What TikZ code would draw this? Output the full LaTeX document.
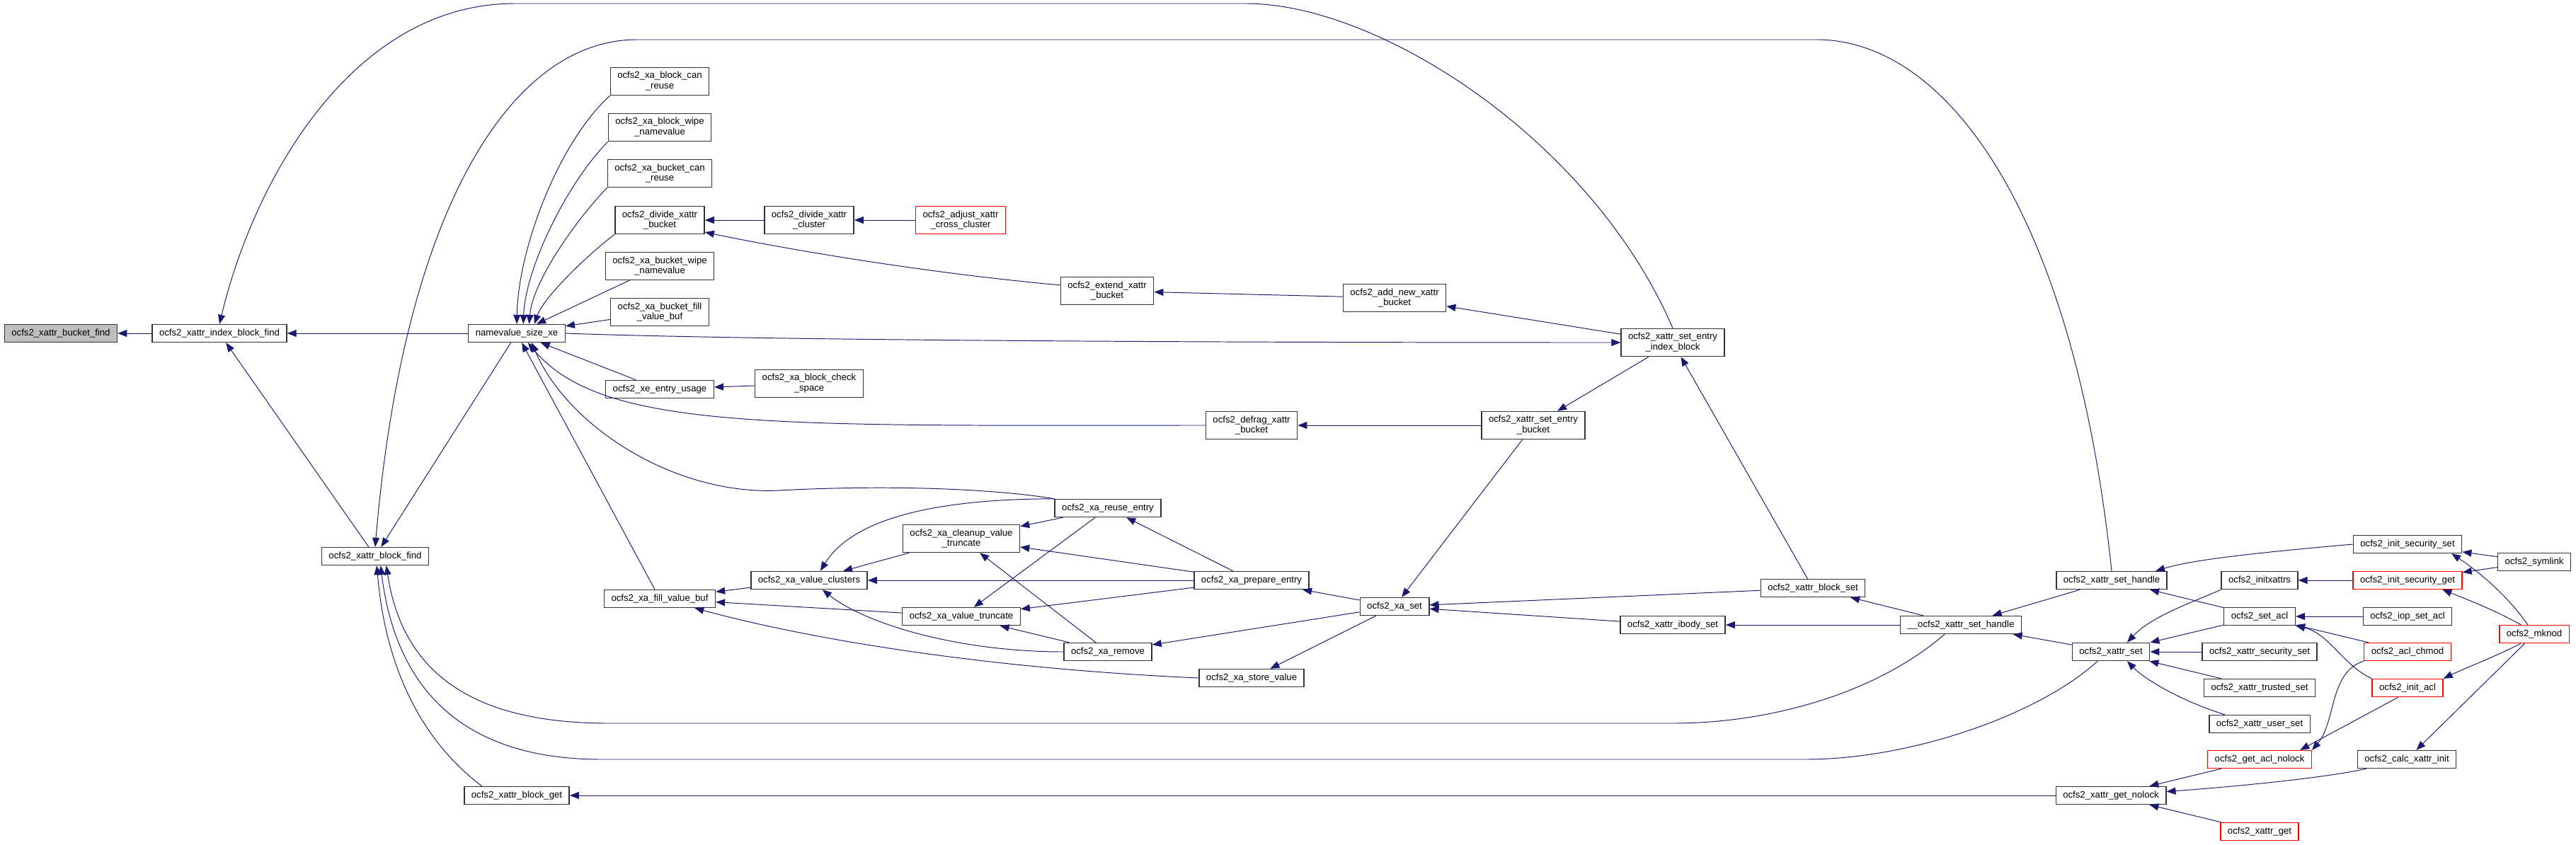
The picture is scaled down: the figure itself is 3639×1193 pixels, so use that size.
\documentclass[tikz,border=0pt]{standalone}
\usepackage{fontspec}
\setmainfont{Liberation Sans}
\usetikzlibrary{arrows.meta}
\definecolor{edgeblue}{HTML}{191970}

\begin{document}
\begin{tikzpicture}[
    x=0.02cm, y=-0.02cm,
    fn/.style={rectangle, draw=black!80, fill=white, line width=0.8pt, font=\fontsize{7.5}{8.5}\selectfont, align=center, inner xsep=0.2cm, inner ysep=0.12cm, minimum height=0.5cm},
    rootfn/.style={fn, fill=black!25},
    trunc/.style={fn, draw=red},
    call/.style={-{Triangle[length=0.26cm, width=0.2cm]}, draw=edgeblue, line width=0.55pt}
  ]
    \useasboundingbox (0,0) rectangle (3639,1193);
    \fill[white] (0,0) rectangle (3639,1193);

    % Target and nearest callers
    \node[rootfn] (bucketfind) at (86,471) {ocfs2\_xattr\_bucket\_find};
    \node[fn] (indexfind) at (310,471) {ocfs2\_xattr\_index\_block\_find};
    \node[fn] (nvsize) at (730,471) {namevalue\_size\_xe};
    \node[fn] (blockfind) at (530,786) {ocfs2\_xattr\_block\_find};
    \node[fn] (blockget) at (730,1124) {ocfs2\_xattr\_block\_get};

    % Callers of namevalue_size_xe
    \node[fn] (blockcanreuse) at (932,115) {ocfs2\_xa\_block\_can\\\_reuse};
    \node[fn] (blockwipe) at (932,180) {ocfs2\_xa\_block\_wipe\\\_namevalue};
    \node[fn] (bucketcanreuse) at (932,245) {ocfs2\_xa\_bucket\_can\\\_reuse};
    \node[fn] (dividebucket) at (932,311) {ocfs2\_divide\_xattr\\\_bucket};
    \node[fn] (bucketwipe) at (932,376) {ocfs2\_xa\_bucket\_wipe\\\_namevalue};
    \node[fn] (bucketfill) at (932,441) {ocfs2\_xa\_bucket\_fill\\\_value\_buf};
    \node[fn] (entryusage) at (932,550) {ocfs2\_xe\_entry\_usage};
    \node[fn] (fillbuf) at (932,846) {ocfs2\_xa\_fill\_value\_buf};

    % Bucket layer
    \node[fn] (dividecluster) at (1143,311) {ocfs2\_divide\_xattr\\\_cluster};
    \node[trunc] (adjustcross) at (1357,311) {ocfs2\_adjust\_xattr\\\_cross\_cluster};
    \node[fn] (extendbucket) at (1564,411) {ocfs2\_extend\_xattr\\\_bucket};
    \node[fn] (addbucket) at (1970,421) {ocfs2\_add\_new\_xattr\\\_bucket};
    \node[fn] (setindexblock) at (2363,484) {ocfs2\_xattr\_set\_entry\\\_index\_block};
    \node[fn] (checkspace) at (1143,542) {ocfs2\_xa\_block\_check\\\_space};
    \node[fn] (defrag) at (1768,601) {ocfs2\_defrag\_xattr\\\_bucket};
    \node[fn] (setbucket) at (2166,601) {ocfs2\_xattr\_set\_entry\\\_bucket};

    % Value helpers
    \node[fn] (reuseentry) at (1565,718) {ocfs2\_xa\_reuse\_entry};
    \node[fn] (cleanup) at (1358,761) {ocfs2\_xa\_cleanup\_value\\\_truncate};
    \node[fn] (valueclusters) at (1143,820) {ocfs2\_xa\_value\_clusters};
    \node[fn] (prepareentry) at (1768,820) {ocfs2\_xa\_prepare\_entry};
    \node[fn] (valuetruncate) at (1358,871) {ocfs2\_xa\_value\_truncate};
    \node[fn] (xaremove) at (1565,921) {ocfs2\_xa\_remove};
    \node[fn] (storevalue) at (1768,958) {ocfs2\_xa\_store\_value};

    % Set path
    \node[fn] (xaset) at (1970,857) {ocfs2\_xa\_set};
    \node[fn] (blockset) at (2561,831) {ocfs2\_xattr\_block\_set};
    \node[fn] (ibodyset) at (2363,883) {ocfs2\_xattr\_ibody\_set};
    \node[fn] (setinner) at (2770,883) {\_\_ocfs2\_xattr\_set\_handle};
    \node[fn] (sethandle) at (2983,820) {ocfs2\_xattr\_set\_handle};
    \node[fn] (xattrset) at (2982,921) {ocfs2\_xattr\_set};
    \node[fn] (getnolock) at (2982,1124) {ocfs2\_xattr\_get\_nolock};

    % Outer callers
    \node[fn] (initxattrs) at (3192,820) {ocfs2\_initxattrs};
    \node[fn] (setacl) at (3192,871) {ocfs2\_set\_acl};
    \node[fn] (secset) at (3192,921) {ocfs2\_xattr\_security\_set};
    \node[fn] (trustset) at (3192,972) {ocfs2\_xattr\_trusted\_set};
    \node[fn] (userset) at (3192,1023) {ocfs2\_xattr\_user\_set};
    \node[trunc] (getaclnolock) at (3192,1073) {ocfs2\_get\_acl\_nolock};
    \node[trunc] (xattrget) at (3192,1175) {ocfs2\_xattr\_get};
    \node[fn] (initsecset) at (3401,769) {ocfs2\_init\_security\_set};
    \node[trunc] (initsecget) at (3401,820) {ocfs2\_init\_security\_get};
    \node[fn] (iopsetacl) at (3401,871) {ocfs2\_iop\_set\_acl};
    \node[trunc] (aclchmod) at (3401,921) {ocfs2\_acl\_chmod};
    \node[trunc] (initacl) at (3401,972) {ocfs2\_init\_acl};
    \node[fn] (calcinit) at (3400,1073) {ocfs2\_calc\_xattr\_init};
    \node[fn] (symlink) at (3580,794) {ocfs2\_symlink};
    \node[trunc] (mknod) at (3580,896) {ocfs2\_mknod};

    % Connections
    \draw[call] (indexfind) -- (bucketfind);
    \draw[call] (nvsize) -- (indexfind);
    \draw[call] (blockfind) -- (indexfind);
    \draw[call] (setindexblock.north) .. controls (2250,200) and (1950,5) .. (1760,5) -- (727,5) .. controls (500,5) and (360,250) .. (indexfind.north);
    \draw[call] (sethandle.north) .. controls (2930,300) and (2750,56) .. (2566,56) -- (900,56) .. controls (720,56) and (570,300) .. (blockfind.north);

    \draw[call] (blockcanreuse.south west) .. controls (790,200) and (732,350) .. (nvsize.north);
    \draw[call] (blockwipe.south west) .. controls (800,260) and (742,380) .. (nvsize.55);
    \draw[call] (bucketcanreuse.south west) .. controls (810,315) and (752,400) .. (nvsize.37);
    \draw[call] (dividebucket.south west) .. controls (830,360) and (768,420) .. (nvsize.28);
    \draw[call] (bucketwipe) -- (nvsize);
    \draw[call] (bucketfill) -- (nvsize);
    \draw[call] (entryusage) -- (nvsize);
    \draw[call] (fillbuf) -- (nvsize);
    \draw[call] (defrag.west) .. controls (1100,601) and (850,610) .. (nvsize.-40);
    \draw[call] (reuseentry.north west) .. controls (1400,690) and (1250,685) .. (1100,693) .. controls (950,700) and (800,600) .. (nvsize.-32);
    \draw[call] (nvsize) -- (blockfind);
    \draw[call] (nvsize.east) .. controls (1100,482) and (1800,484) .. (setindexblock.west);

    \draw[call] (dividecluster) -- (dividebucket);
    \draw[call] (adjustcross) -- (dividecluster);
    \draw[call] (extendbucket.173) .. controls (1300,385) and (1100,350) .. (dividebucket.-15);
    \draw[call] (addbucket) -- (extendbucket);
    \draw[call] (setindexblock) -- (addbucket);
    \draw[call] (checkspace) -- (entryusage);

    \draw[call] (setindexblock) -- (setbucket);
    \draw[call] (blockset) -- (setindexblock);
    \draw[call] (setbucket) -- (defrag);
    \draw[call] (setbucket) -- (xaset);

    \draw[call] (xaset) -- (prepareentry);
    \draw[call] (xaset) -- (xaremove);
    \draw[call] (xaset) -- (storevalue);
    \draw[call] (blockset) -- (xaset);
    \draw[call] (ibodyset) -- (xaset);
    \draw[call] (setinner) -- (ibodyset);
    \draw[call] (setinner) -- (blockset);

    \draw[call] (valueclusters) -- (fillbuf);
    \draw[call] (valuetruncate) -- (fillbuf);
    \draw[call] (storevalue.west) .. controls (1400,945) and (1150,905) .. (fillbuf.-15);
    \draw[call] (cleanup) -- (valueclusters);
    \draw[call] (reuseentry.north west) .. controls (1300,705) and (1200,740) .. (valueclusters.40);
    \draw[call] (prepareentry) -- (valueclusters);
    \draw[call] (xaremove.west) .. controls (1350,921) and (1220,880) .. (valueclusters.-35);
    \draw[call] (reuseentry) -- (cleanup);
    \draw[call] (prepareentry) -- (cleanup);
    \draw[call] (prepareentry) -- (reuseentry);
    \draw[call] (reuseentry) -- (valuetruncate);
    \draw[call] (xaremove) -- (cleanup);
    \draw[call] (prepareentry) -- (valuetruncate);
    \draw[call] (xaremove) -- (valuetruncate);

    \draw[call] (setinner.-150) .. controls (2650,980) and (2500,1022) .. (2363,1022) -- (860,1022) .. controls (680,1022) and (570,960) .. (blockfind.-40);
    \draw[call] (xattrset.-145) .. controls (2880,1010) and (2700,1073) .. (2550,1073) -- (850,1073) .. controls (660,1073) and (560,980) .. (blockfind.-60);
    \draw[call] (blockget.165) .. controls (600,1050) and (545,950) .. (blockfind.-80);
    \draw[call] (getnolock) -- (blockget);

    \draw[call] (sethandle) -- (setinner);
    \draw[call] (xattrset) -- (setinner);
    \draw[call] (initsecset.west) .. controls (3200,780) and (3100,790) .. (sethandle.12);
    \draw[call] (setacl) -- (sethandle);
    \draw[call] (initxattrs.south west) .. controls (3100,850) and (3040,870) .. (xattrset.30);
    \draw[call] (setacl) -- (xattrset);
    \draw[call] (secset) -- (xattrset);
    \draw[call] (trustset) -- (xattrset);
    \draw[call] (userset.165) .. controls (3080,990) and (3030,960) .. (xattrset.-30);
    \draw[call] (initsecget) -- (initxattrs);
    \draw[call] (iopsetacl) -- (setacl);
    \draw[call] (aclchmod) -- (setacl);
    \draw[call] (initacl.north west) .. controls (3310,940) and (3290,895) .. (setacl.south east);
    \draw[call] (aclchmod.south west) .. controls (3290,950) and (3300,1020) .. (getaclnolock.10);
    \draw[call] (initacl.-135) -- (getaclnolock.13);
    \draw[call] (getaclnolock) -- (getnolock);
    \draw[call] (calcinit.-167) .. controls (3280,1100) and (3150,1112) .. (getnolock.4);
    \draw[call] (xattrget) -- (getnolock);
    \draw[call] (symlink) -- (initsecset);
    \draw[call] (symlink) -- (initsecget);
    \draw[call] (mknod.125) .. controls (3545,845) and (3505,810) .. (initsecset.-12);
    \draw[call] (mknod.145) .. controls (3520,860) and (3480,845) .. (initsecget.-15);
    \draw[call] (mknod.-145) .. controls (3520,930) and (3480,945) .. (initacl.north east);
    \draw[call] (mknod) -- (calcinit);

  \end{tikzpicture}
\end{document}
